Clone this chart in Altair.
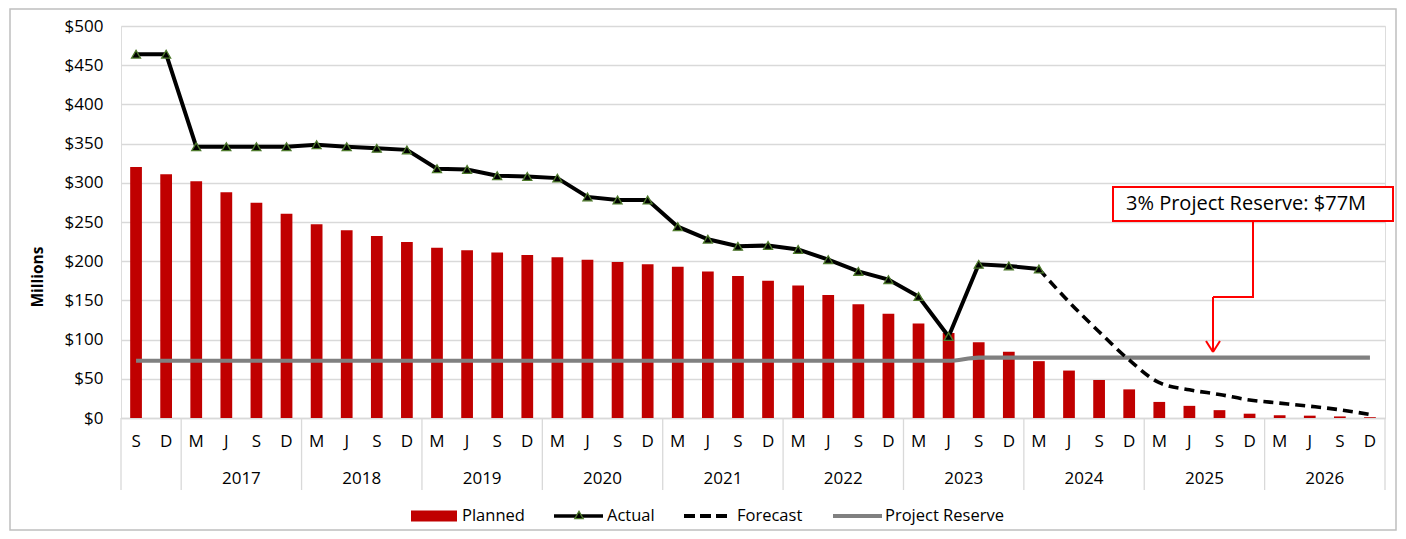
import altair as alt
import pandas as pd

# ---------------- data ----------------
months = ["S", "D"] + ["M", "J", "S", "D"] * 10
years = ["2016", "2016"] + [str(y) for y in range(2017, 2027) for _ in range(4)]
planned = [320, 311,
           302, 288, 274.5, 260.5,
           247, 239.5, 232, 224.5,
           217, 214, 211, 208,
           205, 202, 199, 196,
           193, 187, 181, 175,
           169, 157, 145, 133,
           120.5, 108.5, 96.5, 84.5,
           72.5, 60.5, 48.5, 36.5,
           20.5, 15.5, 10, 5.5,
           3.5, 3, 2, 1]
actual = [464, 464,
          346, 346, 346, 346,
          348.5, 346, 344, 342,
          318, 317, 309, 308,
          306, 282, 278, 278,
          244, 228, 219, 220,
          215, 202, 187, 176.5,
          155, 104, 196, 194,
          190]
forecast = [190, 148, 110, 74,
            45, 36, 30, 23,
            19, 15, 10.5, 4.5]
reserve = [73] * 28 + [77] * 14
year_labels = [str(y) for y in range(2017, 2027)]
y_ticks = list(range(0, 501, 50))
legend_labels = ["Planned", "Actual", "Forecast", "Project Reserve"]
annotation_text = "3% Project Reserve: $77M"

# ---------------- tables ----------------
keys = [f"{y}-{i}-{m}" for i, (y, m) in enumerate(zip(years, months))]
n = len(keys)
df = pd.DataFrame({
    "key": keys, "month": months, "year": years,
    "planned": planned, "reserve": reserve,
    "actual": actual + [None] * (n - len(actual)),
    "forecast": [None] * (n - len(forecast)) + forecast,
})
df_act = df[df["actual"].notna()]
df_fc = df[df["forecast"].notna()]
yr_df = pd.DataFrame({"year": year_labels,
                      "jkey": [keys[2 + 4 * i + 1] for i in range(len(year_labels))]})
left_edges = pd.DataFrame({"key": [keys[0]] + [keys[2 + 4 * i] for i in range(len(year_labels))]})
right_edge = pd.DataFrame({"key": [keys[-1]]})
one = pd.DataFrame({"a": [0]})

W, H = 1264, 392
STEP = W / n
FONT = "Open Sans"
RED = "#C00000"

X = alt.X("key:N", sort=keys,
          scale=alt.Scale(domain=keys, paddingInner=0.61, paddingOuter=0.305),
          axis=alt.Axis(labels=False, ticks=False, title=None, domainColor="#d9d9d9",
                        domainWidth=1.3, grid=False))
YAXIS = alt.Axis(values=y_ticks, labelExpr="'$' + datum.value", labelOverlap=False,
                 domain=False, ticks=False, labelPadding=18, labelFontSize=17,
                 labelFont=FONT, labelColor="#000", title=None,
                 gridColor="#d9d9d9", gridWidth=1.3)
ys = alt.Scale(domain=[0, 500], nice=False)


def Y(field):
    return alt.Y(field, scale=ys, axis=YAXIS)


bars = alt.Chart(df).mark_bar(color=RED).encode(x=X, y=Y("planned:Q"))
res_line = alt.Chart(df).mark_line(color="#808080", strokeWidth=4.2, interpolate="monotone").encode(
    x=X, y=Y("reserve:Q"))
act_line = alt.Chart(df_act).mark_line(color="#000", strokeWidth=4).encode(
    x=X, y=Y("actual:Q"))
fc_line = alt.Chart(df_fc).mark_line(color="#000", strokeWidth=3.6, strokeDash=[10, 6],
                                     interpolate="monotone").encode(
    x=X, y=Y("forecast:Q"))
act_pts = alt.Chart(df_act).mark_point(shape="triangle-up", filled=True, fill="#000",
                                       stroke="#4E7A2C", strokeWidth=1.3, size=80,
                                       opacity=1).encode(
    x=X, y=Y("actual:Q"))

month_txt = alt.Chart(df).mark_text(font=FONT, fontSize=17, color="#000", baseline="middle").encode(
    x=X, y=alt.value(H + 24), text="month:N")
year_txt = alt.Chart(yr_df).mark_text(font=FONT, fontSize=17, color="#000", baseline="middle",
                                      dx=STEP / 2).encode(
    x=alt.X("jkey:N", sort=keys, scale=alt.Scale(domain=keys, paddingInner=0.61, paddingOuter=0.305)),
    y=alt.value(H + 61), text="year:N")
sep_left = alt.Chart(left_edges).mark_rule(color="#d9d9d9", strokeWidth=1.3, xOffset=-STEP / 2).encode(
    x=X, y=alt.value(H), y2=alt.value(H + 72))
sep_right = alt.Chart(right_edge).mark_rule(color="#d9d9d9", strokeWidth=1.3, xOffset=STEP / 2).encode(
    x=X, y=alt.value(H), y2=alt.value(H + 72))

# y title
ytitle = alt.Chart(one).mark_text(text="Millions", font=FONT, fontSize=15.5, fontWeight="bold",
                                  angle=270, color="#000", baseline="middle").encode(
    x=alt.value(-83), y=alt.value(251))

# annotation
ann_box = alt.Chart(one).mark_rect(fill="white", stroke="#FF0000", strokeWidth=2).encode(
    x=alt.value(992), x2=alt.value(1272), y=alt.value(161), y2=alt.value(195))
ann_txt = alt.Chart(one).mark_text(text=annotation_text, font=FONT, fontSize=20, color="#000",
                                   align="left", baseline="middle").encode(
    x=alt.value(1005), y=alt.value(178))
c1 = alt.Chart(one).mark_rule(color="#FF0000", strokeWidth=2).encode(
    x=alt.value(1132), y=alt.value(195), y2=alt.value(271))
c2 = alt.Chart(one).mark_rule(color="#FF0000", strokeWidth=2).encode(
    x=alt.value(1092), x2=alt.value(1133), y=alt.value(271))
c3 = alt.Chart(one).mark_rule(color="#FF0000", strokeWidth=2).encode(
    x=alt.value(1092), y=alt.value(271), y2=alt.value(326))
c4 = alt.Chart(one).mark_rule(color="#FF0000", strokeWidth=2).encode(
    x=alt.value(1085), y=alt.value(315), x2=alt.value(1092), y2=alt.value(326))
c5 = alt.Chart(one).mark_rule(color="#FF0000", strokeWidth=2).encode(
    x=alt.value(1099), y=alt.value(315), x2=alt.value(1092), y2=alt.value(326))

# legend
LY = 490
lg = [
    alt.Chart(one).mark_rect(color=RED).encode(
        x=alt.value(290), x2=alt.value(336), y=alt.value(LY - 5.5), y2=alt.value(LY + 5.5)),
    alt.Chart(one).mark_rule(color="#000", strokeWidth=3.5).encode(
        x=alt.value(433), x2=alt.value(482), y=alt.value(LY)),
    alt.Chart(one).mark_point(shape="triangle-up", filled=True, fill="#000", stroke="#4E7A2C",
                              strokeWidth=1.3, size=70, opacity=1).encode(
        x=alt.value(458), y=alt.value(LY - 1)),
    alt.Chart(one).mark_rule(color="#000", strokeWidth=4, strokeDash=[11, 5]).encode(
        x=alt.value(563), x2=alt.value(608), y=alt.value(LY)),
    alt.Chart(one).mark_rule(color="#808080", strokeWidth=4).encode(
        x=alt.value(712), x2=alt.value(761), y=alt.value(LY)),
]
for lab, xpos in zip(legend_labels, [341, 486, 616, 764]):
    lg.append(alt.Chart(one).mark_text(text=lab, font=FONT, fontSize=16.5, color="#000",
                                       align="left", baseline="middle").encode(
        x=alt.value(xpos), y=alt.value(LY)))

border = alt.Chart(one).mark_rect(fillOpacity=0, stroke="#bfbfbf", strokeWidth=1.5).encode(
    x=alt.value(-111), x2=alt.value(1275), y=alt.value(-17), y2=alt.value(504))

chart = alt.layer(
    bars, res_line, act_line, fc_line, act_pts,
    month_txt, year_txt, sep_left, sep_right, ytitle,
    ann_box, ann_txt, c1, c2, c3, c4, c5, *lg, border,
).properties(
    width=W, height=H,
    autosize=alt.AutoSizeParams(type="none"),
    padding={"left": 113, "top": 18, "right": 13, "bottom": 113},
).configure_view(stroke=None).configure(background="white")

chart.save("out.html", embed_options={"renderer": "svg", "actions": False})
